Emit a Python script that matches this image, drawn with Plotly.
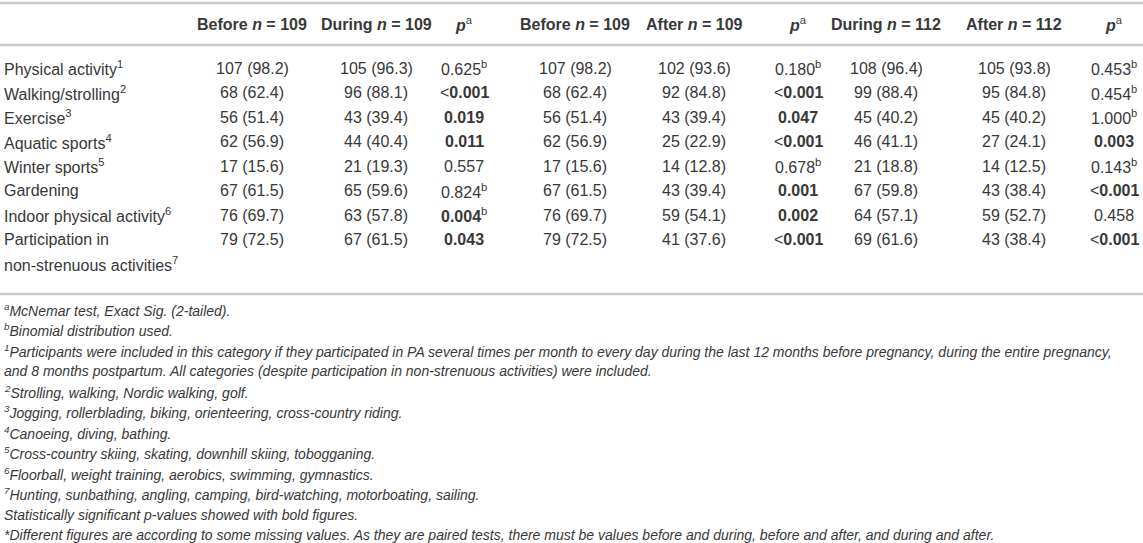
import plotly.graph_objects as go

# ==========================================
# data (read off the table)
# ==========================================
activities = ["Physical activity", "Walking/strolling", "Exercise", "Aquatic sports",
              "Winter sports", "Gardening", "Indoor physical activity",
              "Participation in<br>non-strenuous activities"]
activity_notes = ["1", "2", "3", "4", "5", "", "6", "7"]

col_names = ["Before", "During", "p", "Before", "After", "p", "During", "After", "p"]
col_n = [109, 109, None, 109, 109, None, 112, 112, None]

before_109_n = [107, 68, 56, 62, 17, 67, 76, 79]
before_109_pct = [98.2, 62.4, 51.4, 56.9, 15.6, 61.5, 69.7, 72.5]
during_109_n = [105, 96, 43, 44, 21, 65, 63, 67]
during_109_pct = [96.3, 88.1, 39.4, 40.4, 19.3, 59.6, 57.8, 61.5]
p_before_during = ["0.625", "<0.001", "0.019", "0.011", "0.557", "0.824", "0.004", "0.043"]
binom_before_during = [1, 0, 0, 0, 0, 1, 1, 0]

after_109_n = [102, 92, 43, 25, 14, 43, 59, 41]
after_109_pct = [93.6, 84.8, 39.4, 22.9, 12.8, 39.4, 54.1, 37.6]
p_before_after = ["0.180", "<0.001", "0.047", "<0.001", "0.678", "0.001", "0.002", "<0.001"]
binom_before_after = [1, 0, 0, 0, 1, 0, 0, 0]

during_112_n = [108, 99, 45, 46, 21, 67, 64, 69]
during_112_pct = [96.4, 88.4, 40.2, 41.1, 18.8, 59.8, 57.1, 61.6]
after_112_n = [105, 95, 45, 27, 14, 43, 59, 43]
after_112_pct = [93.8, 84.8, 40.2, 24.1, 12.5, 38.4, 52.7, 38.4]
p_during_after = ["0.453", "0.454", "1.000", "0.003", "0.143", "<0.001", "0.458", "<0.001"]
binom_during_after = [1, 1, 1, 0, 1, 0, 0, 0]

footnotes = [
    "<sup>a</sup>McNemar test, Exact Sig. (2-tailed).",
    "<sup>b</sup>Binomial distribution used.",
    "<sup>1</sup>Participants were included in this category if they participated in PA several times per month to every day during the last 12 months before pregnancy, during the entire pregnancy,",
    "and 8 months postpartum. All categories (despite participation in non-strenuous activities) were included.",
    "<sup>2</sup>Strolling, walking, Nordic walking, golf.",
    "<sup>3</sup>Jogging, rollerblading, biking, orienteering, cross-country riding.",
    "<sup>4</sup>Canoeing, diving, bathing.",
    "<sup>5</sup>Cross-country skiing, skating, downhill skiing, tobogganing.",
    "<sup>6</sup>Floorball, weight training, aerobics, swimming, gymnastics.",
    "<sup>7</sup>Hunting, sunbathing, angling, camping, bird-watching, motorboating, sailing.",
    "Statistically significant p-values showed with bold figures.",
    "*Different figures are according to some missing values. As they are paired tests, there must be values before and during, before and after, and during and after.",
]

# ==========================================
# layout (pixel positions)
# ==========================================
W, H = 1143, 543
COL_X = [252, 376, 464, 575, 694, 798, 886, 1014, 1114]
HEAD_Y = 24
ROW_Y0, ROW_STEP = 68, 24.5
NOTE_Y0, NOTE_STEP = 310, 20.45
TXT = "#383838"
LINE = "#c9c9c9"
FONT = "Liberation Sans"


def count_cell(n, pct):
    return f"{n} ({pct:.1f})"


def p_cell(p, binom):
    val = float(p.lstrip("<"))
    core = p.lstrip("<")
    if val < 0.05:
        core = f"<b>{core}</b>"
    if p.startswith("<"):
        core = "&lt;" + core
    if binom:
        core += "<sup>b</sup>"
    return core


columns = [
    [count_cell(n, q) for n, q in zip(before_109_n, before_109_pct)],
    [count_cell(n, q) for n, q in zip(during_109_n, during_109_pct)],
    [p_cell(p, b) for p, b in zip(p_before_during, binom_before_during)],
    [count_cell(n, q) for n, q in zip(before_109_n, before_109_pct)],
    [count_cell(n, q) for n, q in zip(after_109_n, after_109_pct)],
    [p_cell(p, b) for p, b in zip(p_before_after, binom_before_after)],
    [count_cell(n, q) for n, q in zip(during_112_n, during_112_pct)],
    [count_cell(n, q) for n, q in zip(after_112_n, after_112_pct)],
    [p_cell(p, b) for p, b in zip(p_during_after, binom_during_after)],
]

annotations = []


def add_text(x, y, text, size=16, anchor="center"):
    annotations.append(dict(x=x, y=y, xref="x", yref="y", text=text, showarrow=False,
                            xanchor=anchor, yanchor="middle",
                            font=dict(family=FONT, size=size, color=TXT)))


# header
for x, name, n in zip(COL_X, col_names, col_n):
    if n is None:
        add_text(x, HEAD_Y, "<b><i>p</i></b><sup>a</sup>")
    else:
        add_text(x, HEAD_Y, f"<b>{name} <i>n</i> = {n}</b>")

# row labels
for i, (lab, note) in enumerate(zip(activities, activity_notes)):
    lines = lab.split("<br>")
    for k, line in enumerate(lines):
        if k == len(lines) - 1 and note:
            line += f"<sup>{note}</sup>"
        add_text(2, ROW_Y0 + ROW_STEP * (i + k), line, anchor="left")

# cells
for x, col in zip(COL_X, columns):
    for i, cell in enumerate(col):
        add_text(x, ROW_Y0 + ROW_STEP * i, cell)

# footnotes
for i, note in enumerate(footnotes):
    add_text(2, NOTE_Y0 + NOTE_STEP * i, f"<i>{note}</i>", size=14, anchor="left")

shapes = []
for y in [3, 45, 294]:
    shapes.append(dict(type="line", xref="x", yref="y", x0=0, x1=W, y0=y, y1=y,
                       line=dict(color=LINE, width=2.5)))

fig = go.Figure()
fig.update_layout(
    width=W, height=H,
    margin=dict(l=0, r=0, t=0, b=0),
    paper_bgcolor="white", plot_bgcolor="white",
    xaxis=dict(range=[0, W], visible=False, fixedrange=True),
    yaxis=dict(range=[H, 0], visible=False, fixedrange=True),
    annotations=annotations, shapes=shapes,
    showlegend=False,
)

# page body has an 8px default margin; drop it so the figure fills the window
fig.write_html("out.html", config={"displayModeBar": False},
               post_script="document.body.style.margin='0';")
